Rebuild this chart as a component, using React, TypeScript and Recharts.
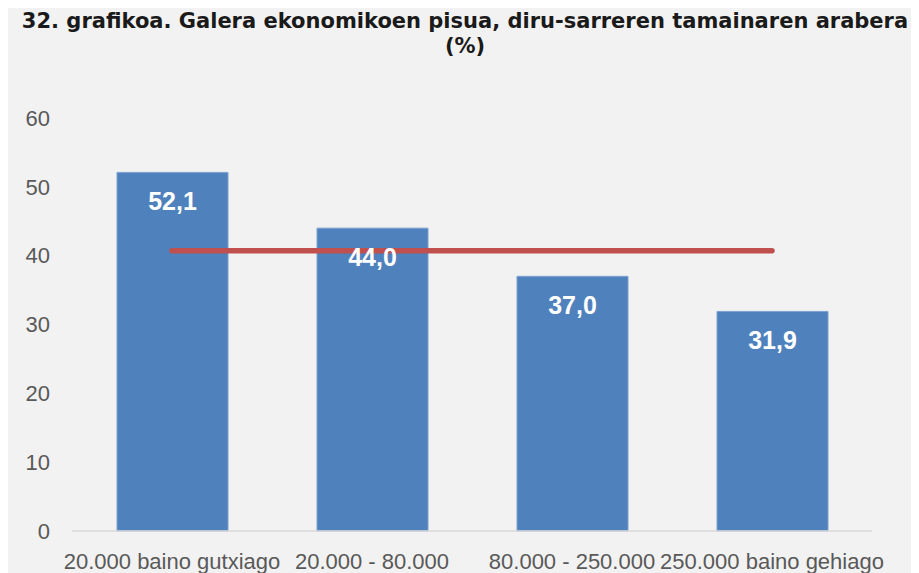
import { Bar, ComposedChart, LabelList, Line, XAxis, YAxis } from "recharts";

const categories = [
  "20.000 baino gutxiago",
  "20.000 - 80.000",
  "80.000 - 250.000",
  "250.000 baino gehiago",
];
const shares = [52.1, 44.0, 37.0, 31.9];
const average = [40.7, 40.7, 40.7, 40.7];
const yTicks = [0, 10, 20, 30, 40, 50, 60];

const data = categories.map((name, i) => ({
  name,
  share: shares[i],
  avg: average[i],
}));

const fmt = (v: number) => v.toFixed(1).replace(".", ",");

export default function App() {
  return (
    <div
      style={{
        position: "relative",
        width: 911,
        height: 565,
        background: "#f2f2f2",
        overflow: "hidden",
      }}
    >
      <div
        style={{
          position: "absolute",
          left: 0,
          top: 1,
          width: 914,
          textAlign: "center",
          fontFamily: "'DejaVu Sans', sans-serif",
          fontWeight: "bold",
          fontSize: 21,
          lineHeight: "25px",
          color: "#1a1a1a",
          whiteSpace: "nowrap",
        }}
      >
        32. grafikoa. Galera ekonomikoen pisua, diru-sarreren tamainaren arabera
        <br />
        (%)
      </div>
      <ComposedChart
        width={911}
        height={565}
        data={data}
        margin={{ top: 110, right: 47, left: 0, bottom: 0 }}
        style={{ position: "absolute", left: 0, top: 0 }}
      >
        <XAxis
          dataKey="name"
          interval={0}
          height={42}
          tickLine={false}
          tickMargin={16}
          axisLine={{ stroke: "#d9d9d9", strokeWidth: 1.5 }}
          tick={{ fill: "#595959", fontSize: 22, fontFamily: "'Liberation Sans', sans-serif" }}
        />
        <YAxis
          domain={[0, 60]}
          ticks={yTicks}
          width={64}
          axisLine={false}
          tickLine={false}
          tickMargin={16}
          tick={{ fill: "#595959", fontSize: 22, fontFamily: "'Liberation Sans', sans-serif" }}
        />
        <Bar
          dataKey="share"
          fill="#4f81bd"
          stroke="#7ea1d0"
          strokeWidth={1}
          barSize={111}
          isAnimationActive={false}
        >
          <LabelList
            dataKey="share"
            position="insideTop"
            offset={20}
            formatter={(v: any) => fmt(Number(v))}
            fill="#ffffff"
            fontSize={25}
            fontWeight="bold"
            fontFamily="'Liberation Sans', sans-serif"
          />
        </Bar>
        <Line
          dataKey="avg"
          stroke="#c0504d"
          strokeWidth={5.5}
          strokeLinecap="round"
          dot={false}
          activeDot={false}
          isAnimationActive={false}
        />
      </ComposedChart>
    </div>
  );
}
